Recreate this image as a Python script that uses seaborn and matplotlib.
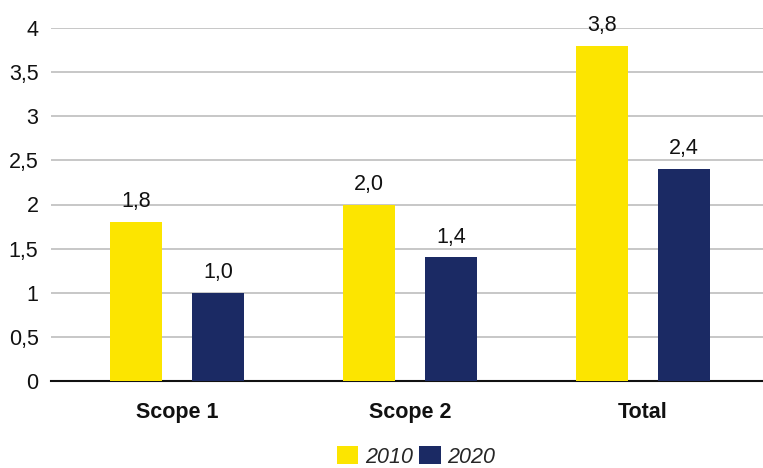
import matplotlib
matplotlib.use("Agg")
import matplotlib.pyplot as plt
import seaborn as sns
import pandas as pd
from matplotlib.ticker import FuncFormatter
from matplotlib.patches import Patch

categories = ["Scope 1", "Scope 2", "Total"]
values_2010 = [1.8, 2.0, 3.8]
values_2020 = [1.0, 1.4, 2.4]
years = ["2010", "2020"]
colors = ["#FCE500", "#1B2A64"]

df = pd.DataFrame({
    "category": categories * 2,
    "year": [years[0]] * 3 + [years[1]] * 3,
    "value": values_2010 + values_2020,
})

sns.set_theme(style="white")
plt.rcParams["font.family"] = ["Liberation Sans", "DejaVu Sans"]

fig = plt.figure(figsize=(7.63, 4.68), dpi=100)
ax = fig.add_axes([51 / 763, 87 / 468, 712 / 763, 353 / 468])

sns.barplot(data=df, x="category", y="value", hue="year", order=categories,
            hue_order=years, palette=colors, width=0.704, gap=0.366,
            saturation=1, linewidth=0, ax=ax, legend=False, zorder=3)

for cont in ax.containers:
    ax.bar_label(cont, labels=[f"{v:.1f}".replace(".", ",") for v in cont.datavalues],
                 padding=7, fontsize=15.5, color="#111111")

ax.set_ylim(0, 4)
ax.set_xlim(-0.541, 2.515)
ax.set_yticks([0, 0.5, 1, 1.5, 2, 2.5, 3, 3.5, 4])
ax.yaxis.set_major_formatter(FuncFormatter(lambda v, p: (f"{v:g}").replace(".", ",")))
ax.grid(axis="y", color="#BDBDBD", linewidth=1.2, zorder=0)
ax.set_axisbelow(True)
for s in ["top", "right", "left"]:
    ax.spines[s].set_visible(False)
ax.spines["bottom"].set_color("#111111")
ax.spines["bottom"].set_linewidth(1.5)
ax.tick_params(axis="y", length=0, labelsize=15.5, pad=9, labelcolor="#111111")
ax.tick_params(axis="x", length=0, labelsize=15.5, pad=15, labelcolor="#111111")
for lab in ax.get_xticklabels():
    lab.set_fontweight("bold")
ax.set_xlabel("")
ax.set_ylabel("")

handles = [Patch(facecolor=c, edgecolor="none") for c in colors]
leg = fig.legend(handles, years, loc="center", bbox_to_anchor=(416 / 763, 1 - 457 / 468),
                 ncol=2, frameon=False, handlelength=1.0, handleheight=0.9,
                 handletextpad=0.3, columnspacing=0.3, prop={"style": "italic", "size": 15.5})

fig.savefig("out.png", dpi=100)
